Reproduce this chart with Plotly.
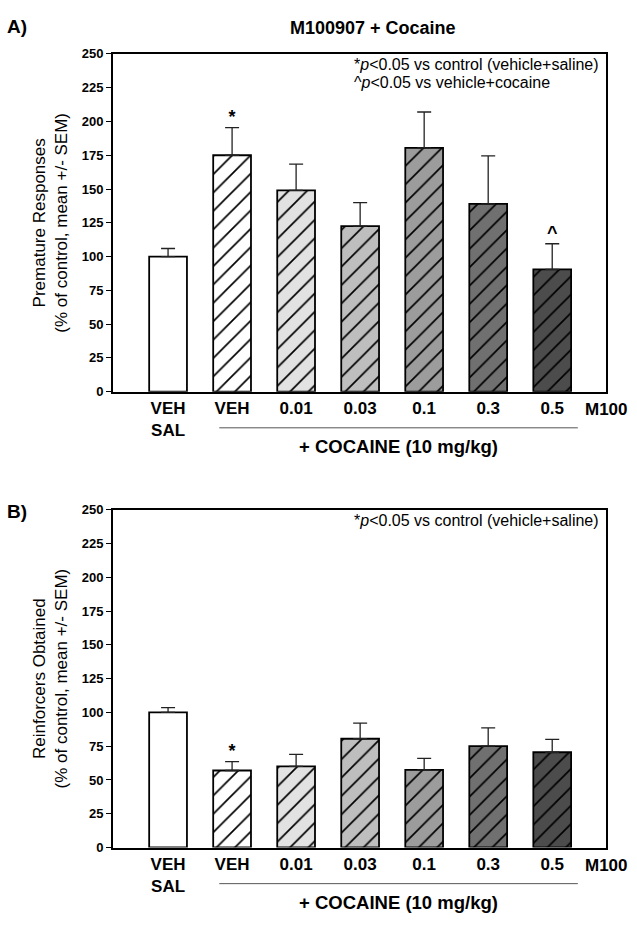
import plotly.graph_objects as go

# ---- data ----
categories = ["VEH SAL", "VEH", "0.01", "0.03", "0.1", "0.3", "0.5"]
tick_labels = ["VEH<br>SAL", "VEH", "0.01", "0.03", "0.1", "0.3", "0.5"]
premature_mean = [100, 175, 149, 122.5, 180.5, 139, 90.5]
premature_sem = [6, 20.5, 19.5, 17.5, 26.5, 35.5, 19]
premature_marks = ["", "*", "", "", "", "", "^"]
reinforcers_mean = [100, 57, 60, 80.5, 57.5, 75, 70.5]
reinforcers_sem = [3.5, 6.5, 9, 11.5, 8.5, 13.5, 9.5]
reinforcers_marks = ["", "*", "", "", "", "", ""]
y_ticks = [0, 25, 50, 75, 100, 125, 150, 175, 200, 225, 250]

# ---- styles ----
bar_colors = ["#ffffff", "#ffffff", "#e2e2e2", "#bebebe", "#9c9c9c", "#707070", "#4c4c4c"]
pattern_shapes = ["", "/", "/", "/", "/", "/", "/"]
FONT = "Arial, Liberation Sans, sans-serif"

xpos = list(range(len(categories)))
fig = go.Figure()


def add_panel(means, sems, marks, xa, ya):
    fig.add_trace(go.Bar(
        x=xpos, y=means, width=0.59, xaxis=xa, yaxis=ya,
        marker=dict(color="#ffffff", line=dict(color="black", width=1.8),
                    pattern=dict(shape=pattern_shapes, fgcolor="#000000",
                                 bgcolor=bar_colors, size=13, solidity=0.13,
                                 fgopacity=1, fillmode="replace")),
        error_y=dict(type="data", array=sems, arrayminus=[0] * len(sems),
                     symmetric=False, color="#222222", thickness=1.3, width=7),
        showlegend=False, hoverinfo="skip"))
    fig.add_trace(go.Scatter(
        x=xpos, y=[m + s for m, s in zip(means, sems)], xaxis=xa, yaxis=ya,
        mode="text", text=["<b>%s</b>" % m if m else "" for m in marks],
        textposition="top center",
        textfont=dict(family=FONT, size=18, color="black"),
        showlegend=False, hoverinfo="skip", cliponaxis=False))


add_panel(premature_mean, premature_sem, premature_marks, "x", "y")
add_panel(reinforcers_mean, reinforcers_sem, reinforcers_marks, "x2", "y2")

xaxis_common = dict(range=[-0.86, 6.84], tickmode="array", tickvals=xpos,
                    ticktext=["<b>%s</b>" % t.replace("<br>", "</b><br><b>") for t in tick_labels],
                    tickfont=dict(family=FONT, size=17, color="black"),
                    ticks="", showline=True, linecolor="black", linewidth=2,
                    mirror=True, showgrid=False, zeroline=False, ticklabelstandoff=0)
yaxis_common = dict(range=[0, 250], tickmode="array", tickvals=y_ticks,
                    ticktext=["<b>%d</b>" % v for v in y_ticks],
                    tickfont=dict(family=FONT, size=13, color="black"),
                    ticks="outside", ticklen=5, tickcolor="black", tickwidth=1,
                    showline=True, linecolor="black", linewidth=2, mirror=True,
                    showgrid=False, zeroline=False)

top_dom = [(929 - 391) / 929, (929 - 47.7) / 929]
bot_dom = [(929 - 854.3) / 929, (929 - 511) / 929]
xdom = [113 / 637, 606 / 637]

fig.update_layout(
    width=637, height=929, margin=dict(l=0, r=0, t=0, b=0),
    paper_bgcolor="white", plot_bgcolor="white",
    font=dict(family=FONT, color="black"),
    xaxis=dict(xaxis_common, domain=xdom, anchor="y"),
    yaxis=dict(yaxis_common, domain=top_dom, anchor="x",
               title=dict(text="Premature Responses<br>(% of control, mean +/- SEM)",
                          font=dict(family=FONT, size=17), standoff=10)),
    xaxis2=dict(xaxis_common, domain=xdom, anchor="y2"),
    yaxis2=dict(yaxis_common, domain=bot_dom, anchor="x2",
                title=dict(text="Reinforcers Obtained<br>(% of control, mean +/- SEM)",
                           font=dict(family=FONT, size=17), standoff=10)),
)

for xa, ya, lines in [("x", "y", ["*<i>p</i>&lt;0.05 vs control (vehicle+saline)",
                                  "^<i>p</i>&lt;0.05 vs vehicle+cocaine"]),
                      ("x2", "y2", ["*<i>p</i>&lt;0.05 vs control (vehicle+saline)"])]:
    for i, t in enumerate(lines):
        fig.add_annotation(text=t, xref=xa + " domain", yref=ya + " domain",
                           x=(352 - 113) / 493, y=1 - (11 + 18.5 * i) / 343,
                           xanchor="left", yanchor="middle", showarrow=False,
                           font=dict(family=FONT, size=16, color="black"))
    fig.add_shape(type="line", xref=xa, yref=ya + " domain", x0=0.8, x1=6.4,
                  y0=-0.107, y1=-0.107, line=dict(color="#555555", width=1))
    fig.add_annotation(text="<b>+ COCAINE (10 mg/kg)</b>", xref=xa, yref=ya + " domain",
                       x=3.6, y=-56 / 343, xanchor="center", yanchor="middle",
                       showarrow=False, font=dict(family=FONT, size=18.5, color="black"))
    fig.add_annotation(text="<b>M100</b>", xref=xa + " domain", yref=ya + " domain",
                       x=(583 - 113) / 493, y=-18 / 343, xanchor="left", yanchor="middle",
                       showarrow=False, font=dict(family=FONT, size=17, color="black"))

fig.add_annotation(text="<b>M100907 + Cocaine</b>", xref="paper", yref="paper",
                   x=373 / 637, y=1 - 21 / 929, xanchor="center", yanchor="middle",
                   showarrow=False, font=dict(family=FONT, size=18, color="black"))
fig.add_annotation(text="<b>A)</b>", xref="paper", yref="paper",
                   x=5 / 637, y=1 - 20 / 929, xanchor="left", yanchor="middle",
                   showarrow=False, font=dict(family=FONT, size=19, color="black"))
fig.add_annotation(text="<b>B)</b>", xref="paper", yref="paper",
                   x=5 / 637, y=1 - 513 / 929, xanchor="left", yanchor="middle",
                   showarrow=False, font=dict(family=FONT, size=19, color="black"))

fig.write_html("out.html", config={"displayModeBar": False},
               post_script="document.body.style.margin='0';")
